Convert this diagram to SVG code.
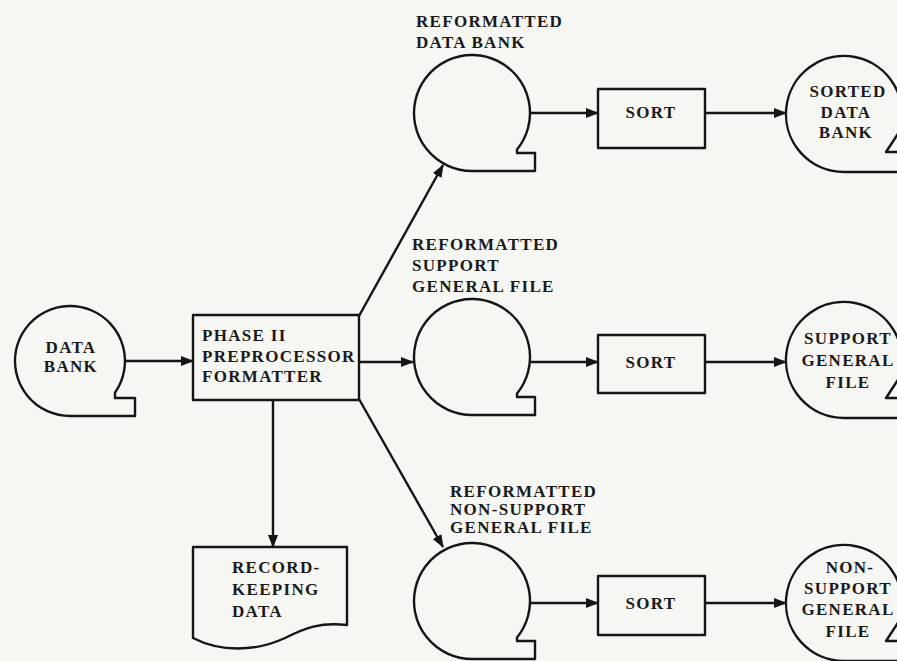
<svg xmlns="http://www.w3.org/2000/svg" width="897" height="661" viewBox="0 0 897 661">
  <defs>
    <style>
      .bg { fill: #f6f6f3; }
      .shape { fill: #f6f6f3; stroke: #151515; stroke-width: 2.4; stroke-linejoin: round; }
      .wire { fill: none; stroke: #151515; stroke-width: 2.4; marker-end: url(#arrow); }
      text { font-family: "Liberation Serif", "DejaVu Serif", serif; font-weight: bold; font-size: 17px; letter-spacing: 1.3px; fill: #1a1a1a; }
      .mid { text-anchor: middle; }
    </style>
    <marker id="arrow" markerUnits="userSpaceOnUse" markerWidth="13" markerHeight="10" refX="12" refY="5" orient="auto">
      <path d="M0,0 L13,5 L0,10 Z" fill="#151515"/>
    </marker>
  </defs>

  <rect class="bg" x="0" y="0" width="897" height="661"/>

  <!-- connectors -->
  <g id="connectors">
    <line class="wire" x1="125" y1="361" x2="193" y2="361"/>
    <line class="wire" x1="359" y1="316" x2="443" y2="165"/>
    <line class="wire" x1="360" y1="362" x2="413" y2="362"/>
    <line class="wire" x1="359" y1="399" x2="443" y2="547"/>
    <line class="wire" x1="273" y1="400" x2="273" y2="547"/>
    <line class="wire" x1="530" y1="113" x2="598" y2="113"/>
    <line class="wire" x1="705" y1="113" x2="786" y2="113"/>
    <line class="wire" x1="531" y1="362" x2="598" y2="362"/>
    <line class="wire" x1="705" y1="362" x2="786" y2="362"/>
    <line class="wire" x1="530" y1="603" x2="598" y2="603"/>
    <line class="wire" x1="705" y1="603" x2="786" y2="603"/>
  </g>

  <!-- input tape -->
  <g id="data-bank">
    <path class="shape" d="M115,392.6 A55,55 0 1 0 70,416 L135,416 L135,398 L115,398 Z"/>
    <text x="71" y="353" class="mid">DATA</text>
    <text x="71" y="372" class="mid">BANK</text>
  </g>

  <!-- formatter process -->
  <g id="formatter">
    <rect class="shape" x="193" y="315" width="166" height="85"/>
    <text x="202" y="341">PHASE II</text>
    <text x="202" y="362">PREPROCESSOR</text>
    <text x="202" y="382">FORMATTER</text>
  </g>

  <!-- record-keeping document -->
  <g id="record-keeping">
    <path class="shape" d="M193,547 L347,547 L347,625 C320,622 305,628 285,638 C255,652 220,652 193,638 Z"/>
    <text x="232" y="573">RECORD-</text>
    <text x="232" y="595">KEEPING</text>
    <text x="232" y="617">DATA</text>
  </g>

  <!-- reformatted tapes -->
  <g id="reformatted-data-bank">
    <path class="shape" d="M517,149.6 A58,58 0 1 0 472,171 L535,171 L535,153 L517,153 Z"/>
    <text x="416" y="27">REFORMATTED</text>
    <text x="416" y="48">DATA BANK</text>
  </g>
  <g id="reformatted-support">
    <path class="shape" d="M517,393.6 A58,58 0 1 0 472,415 L535,415 L535,397 L517,397 Z"/>
    <text x="412" y="250">REFORMATTED</text>
    <text x="412" y="271">SUPPORT</text>
    <text x="412" y="292">GENERAL FILE</text>
  </g>
  <g id="reformatted-non-support">
    <path class="shape" d="M517,637.6 A58,58 0 1 0 472,659 L535,659 L535,641 L517,641 Z"/>
    <text x="450" y="497">REFORMATTED</text>
    <text x="450" y="515">NON-SUPPORT</text>
    <text x="450" y="533">GENERAL FILE</text>
  </g>

  <!-- sort steps -->
  <g id="sort-1">
    <rect class="shape" x="598" y="89" width="107" height="59"/>
    <text x="651" y="118" class="mid">SORT</text>
  </g>
  <g id="sort-2">
    <rect class="shape" x="598" y="335" width="107" height="58"/>
    <text x="651" y="368" class="mid">SORT</text>
  </g>
  <g id="sort-3">
    <rect class="shape" x="598" y="576" width="107" height="59"/>
    <text x="651" y="609" class="mid">SORT</text>
  </g>

  <!-- sorted output tapes -->
  <g id="sorted-data-bank">
    <path class="shape" d="M899.1,132 A58,58 0 1 0 844,172 L906,172 L906,152 L886,152 Z"/>
    <text x="848" y="97" class="mid">SORTED</text>
    <text x="846" y="118" class="mid">DATA</text>
    <text x="846" y="138" class="mid">BANK</text>
  </g>
  <g id="support-general-file">
    <path class="shape" d="M899.1,378 A58,58 0 1 0 844,418 L906,418 L906,398 L886,398 Z"/>
    <text x="848" y="344" class="mid">SUPPORT</text>
    <text x="848" y="366" class="mid">GENERAL</text>
    <text x="848" y="388" class="mid">FILE</text>
  </g>
  <g id="non-support-general-file">
    <path class="shape" d="M899.1,621 A58,58 0 1 0 844,661 L906,661 L906,641 L886,641 Z"/>
    <text x="850" y="573" class="mid">NON-</text>
    <text x="848" y="594" class="mid">SUPPORT</text>
    <text x="848" y="615" class="mid">GENERAL</text>
    <text x="848" y="637" class="mid">FILE</text>
  </g>
</svg>
